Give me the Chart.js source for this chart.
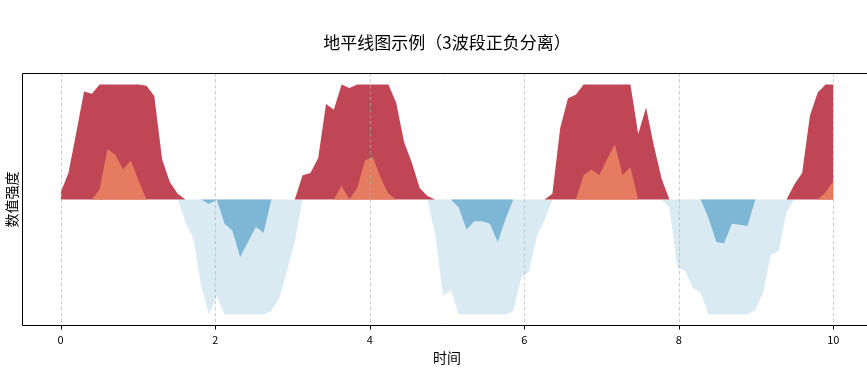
<!DOCTYPE html>
<html>
<head>
<meta charset="utf-8">
<script src="https://cdn.jsdelivr.net/npm/chart.js@4.4.1/dist/chart.umd.min.js"></script>
<style>
  html, body { margin: 0; padding: 0; background: #fff; overflow: hidden; }
  #wrap { width: 880px; height: 380px; }
</style>
</head>
<body>
<div id="wrap"><canvas id="c" width="880" height="380"></canvas></div>
<script>
// ---- data ----
const chartTitle = '地平线图示例（3波段正负分离）';
const xAxisLabel = '时间';
const yAxisLabel = '数值强度';
const xTicks = [0, 2, 4, 6, 8, 10];
const sampleCount = 100;
const timeStart = 0;
const timeEnd = 10;
// signal in band units (band size = 1)
const signal = [
   0.06,  0.23,  0.58,  0.94,  0.92,  1.09,  1.44,  1.39,  1.26,  1.34,
   1.16,  0.99,  0.90,  0.35,  0.15,  0.05, -0.20, -0.34, -0.75, -1.04,
  -0.84, -1.21, -1.27, -1.50, -1.37, -1.24, -1.29, -0.97, -0.86, -0.62,
  -0.37,  0.21,  0.23,  0.36,  0.83,  0.78,  1.12,  0.97,  1.10,  1.34,
   1.37,  1.19,  1.05,  0.84,  0.50,  0.32,  0.10,  0.03, -0.31, -0.84,
  -0.79, -1.07, -1.26, -1.19, -1.19, -1.21, -1.37, -1.17, -0.97, -0.68,
  -0.63, -0.32, -0.18,  0.05,  0.62,  0.88,  0.91,  1.21,  1.26,  1.21,
   1.35,  1.48,  1.21,  1.28,  0.57,  0.80,  0.47,  0.18, -0.07, -0.59,
  -0.62, -0.77, -0.81, -1.16, -1.37, -1.38, -1.21, -1.22, -1.23, -0.96,
  -0.81, -0.48, -0.45, -0.11,  0.13,  0.23,  0.73,  0.93,  1.06,  1.16
];
const bandSize = 1;
const posColors = ['#c14655', '#e67c5f'];
const negColors = ['#daeaf3', '#7eb6d6'];

// ---- derived ----
const times = signal.map((_, i) => timeStart + i * (timeEnd - timeStart) / (sampleCount - 1));
function posBand(k) {
  return signal.map((v, i) => ({ x: times[i], y: Math.min(Math.max(v - k * bandSize, 0), bandSize) }));
}
function negBand(k) {
  return signal.map((v, i) => ({ x: times[i], y: -Math.min(Math.max(-v - k * bandSize, 0), bandSize) }));
}
function bandDataset(data, color, order) {
  return {
    data: data, order: order, fill: 'origin',
    backgroundColor: color, borderColor: 'rgba(0,0,0,0)', borderWidth: 0,
    pointRadius: 0, pointHoverRadius: 0, tension: 0
  };
}

const fontFam = '"Noto Sans CJK SC", "DejaVu Sans", sans-serif';

const framePlugin = {
  id: 'frame',
  afterDatasetsDraw(chart) {
    const { ctx, chartArea: a, scales } = chart;
    const xs = scales.x;
    ctx.save();
    // dashed grid lines (drawn above fills)
    ctx.strokeStyle = 'rgba(176,176,176,0.8)';
    ctx.lineWidth = 0.8;
    ctx.setLineDash([3.5, 2.5]);
    xTicks.forEach(t => {
      const px = Math.round(xs.getPixelForValue(t)) + 0.5;
      ctx.beginPath(); ctx.moveTo(px, a.top); ctx.lineTo(px, a.bottom); ctx.stroke();
    });
    ctx.setLineDash([]);
    // spines
    ctx.strokeStyle = '#000';
    ctx.lineWidth = 1;
    ctx.beginPath();
    ctx.moveTo(a.right, a.top + 0.5); ctx.lineTo(a.left + 0.5, a.top + 0.5);
    ctx.lineTo(a.left + 0.5, a.bottom - 0.5); ctx.lineTo(a.right, a.bottom - 0.5);
    ctx.moveTo(a.right - 0.5, a.top); ctx.lineTo(a.right - 0.5, a.bottom);
    ctx.stroke();
    // tick marks
    xTicks.forEach(t => {
      const px = Math.round(xs.getPixelForValue(t)) + 0.5;
      ctx.beginPath(); ctx.moveTo(px, a.bottom); ctx.lineTo(px, a.bottom + 3.5); ctx.stroke();
    });
    ctx.restore();
  }
};

new Chart(document.getElementById('c'), {
  type: 'line',
  data: {
    datasets: [
      bandDataset(posBand(1), posColors[1], 0),
      bandDataset(posBand(0), posColors[0], 1),
      bandDataset(negBand(1), negColors[1], 0),
      bandDataset(negBand(0), negColors[0], 1)
    ]
  },
  options: {
    responsive: false,
    animation: false,
    devicePixelRatio: 1,
    layout: { padding: { left: 0, right: 8, top: 0, bottom: 14 } },
    plugins: {
      legend: { display: false },
      tooltip: { enabled: false },
      title: {
        display: true, text: chartTitle, fullSize: false, color: '#000',
        font: { family: fontFam, size: 17, weight: 'normal' },
        padding: { top: 32, bottom: 20.6 }
      }
    },
    scales: {
      x: {
        type: 'linear', min: -0.5, max: 10.5,
        afterBuildTicks: s => { s.ticks = xTicks.map(v => ({ value: v })); },
        afterFit: s => { s.height = 40; },
        grid: { display: false, drawTicks: false },
        border: { display: false },
        ticks: { color: '#000', padding: 7, maxRotation: 0, font: { family: fontFam, size: 11 },
                 callback: v => String(v) },
        title: { display: true, text: xAxisLabel, color: '#000', padding: 0,
                 font: { family: fontFam, size: 14 } }
      },
      y: {
        type: 'linear', min: -1.1, max: 1.1,
        afterFit: s => { s.width = 22; },
        grid: { display: false, drawTicks: false },
        border: { display: false },
        ticks: { display: false },
        title: { display: true, text: yAxisLabel, color: '#000', padding: 3,
                 font: { family: fontFam, size: 14 } }
      }
    }
  },
  plugins: [framePlugin]
});
</script>
</body>
</html>
